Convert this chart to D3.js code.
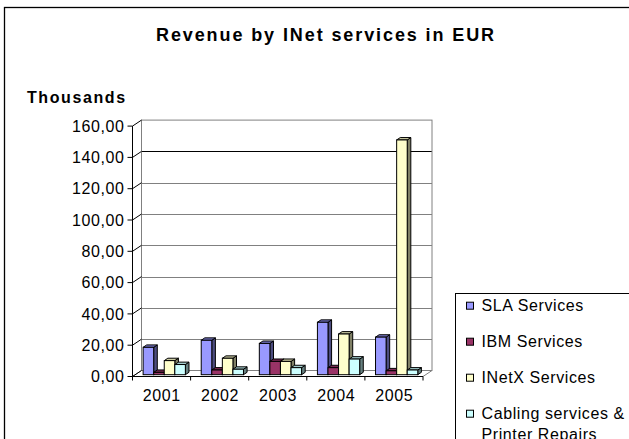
<!DOCTYPE html>
<html>
<head>
<meta charset="utf-8">
<script src="https://cdn.jsdelivr.net/npm/d3@7"></script>
<style>
  html, body { margin: 0; padding: 0; background: #fff; }
  svg { display: block; font-family: "Liberation Sans", Arial, sans-serif; }
</style>
</head>
<body>
<svg id="chart" width="629" height="439"></svg>
<script>
// Revenue per year (thousands of EUR), one array per service line
const years = ["2001", "2002", "2003", "2004", "2005"];
const seriesNames = ["SLA Services", "IBM Services", "INetX Services", "Cabling services & Printer Repairs"];
const slaServices = [17.5, 22, 20, 33.5, 24];
const ibmServices = [1.5, 3, 8.5, 4.5, 2.5];
const inetxServices = [9, 10.5, 8.5, 26, 150];
const cablingServices = [6.5, 3.5, 4.5, 10, 3];
const yTicks = [0, 20, 40, 60, 80, 100, 120, 140, 160];
const seriesColors = ["#9999FF", "#993366", "#FFFFCC", "#CCFFFF"];

const seriesValues = [slaServices, ibmServices, inetxServices, cablingServices];

const svg = d3.select("#chart");

// chart frame (continues past the right and bottom edges)
svg.append("rect")
  .attr("x", 4.5).attr("y", 7.5)
  .attr("width", 660).attr("height", 460)
  .attr("fill", "#fff").attr("stroke", "#000").attr("stroke-width", 1.3);

svg.append("text")
  .attr("x", 326).attr("y", 41)
  .attr("text-anchor", "middle")
  .attr("font-size", 18).attr("font-weight", "bold")
  .attr("letter-spacing", 1.9)
  .text("Revenue by INet services in EUR");

svg.append("text")
  .attr("x", 27).attr("y", 102.5)
  .attr("font-size", 16).attr("font-weight", "bold")
  .attr("letter-spacing", 1.6)
  .text("Thousands");

// 3-D geometry: front edge of the plot and the depth offset to the back wall
const front = { x0: 132.5, x1: 423, y0: 376.5 };
const depth = { dx: 9, dy: -6 };
const barDepth = [0.3, 0.7];
const labelSpacing = 0.6;

const x = d3.scaleBand().domain(years).range([front.x0, front.x1]);
const y = d3.scaleLinear().domain([0, 160]).range([front.y0, front.y0 - 160 * 1.565]);

const g = svg.append("g");

// back wall with gridlines
const wall = g.append("g").attr("transform", `translate(${depth.dx},${depth.dy})`);
wall.selectAll("line.grid").data(yTicks.slice(1, -1)).join("line")
  .attr("class", "grid")
  .attr("x1", front.x0).attr("x2", front.x1)
  .attr("y1", d => Math.round(y(d)) + 0.5).attr("y2", d => Math.round(y(d)) + 0.5)
  .attr("stroke", d => d === 140 ? "#000" : "#808080").attr("stroke-width", 1);
wall.append("rect")
  .attr("x", front.x0).attr("y", y(160))
  .attr("width", front.x1 - front.x0).attr("height", y(0) - y(160))
  .attr("fill", "none").attr("stroke", "#808080").attr("stroke-width", 1);

// floor edges
g.append("path")
  .attr("d", `M${front.x0},${front.y0} L${front.x0 + depth.dx},${front.y0 + depth.dy} M${front.x1},${front.y0} L${front.x1 + depth.dx},${front.y0 + depth.dy}`)
  .attr("stroke", "#808080").attr("fill", "none");

// value axis with diagonal tick connectors to the wall
const yAxis = g.append("g");
yAxis.append("line")
  .attr("x1", front.x0).attr("x2", front.x0)
  .attr("y1", y(0)).attr("y2", y(160))
  .attr("stroke", "#000");
yAxis.selectAll("path.tick").data(yTicks).join("path")
  .attr("class", "tick")
  .attr("d", d => `M${front.x0 - 5},${y(d)} L${front.x0},${y(d)} L${front.x0 + depth.dx},${y(d) + depth.dy}`)
  .attr("stroke", "#000").attr("fill", "none");
yAxis.selectAll("text").data(yTicks).join("text")
  .attr("x", front.x0 - 8).attr("y", d => y(d))
  .attr("dy", "0.35em")
  .attr("text-anchor", "end")
  .attr("font-size", 16)
  .attr("letter-spacing", labelSpacing)
  .text(d => d3.format(".2f")(d).replace(".", ","));

// bars: front face, side face and top face
const barW = x.bandwidth() / 5.5;   // gap width 150%
const shade = (c, k) => { const r = d3.rgb(c); return d3.rgb(r.r * k, r.g * k, r.b * k).formatHex(); };

const barData = [];
years.forEach((yr, i) => {
  seriesValues.forEach((vals, s) => barData.push({ yr, s, v: vals[i] }));
});

const ox0 = depth.dx * barDepth[0], oy0 = depth.dy * barDepth[0];
const bdx = depth.dx * (barDepth[1] - barDepth[0]), bdy = depth.dy * (barDepth[1] - barDepth[0]);

g.append("g").selectAll("g.bar").data(barData).join("g").attr("class", "bar")
  .each(function (d) {
    const gx = x(d.yr) + barW * 0.75 + d.s * barW + ox0;
    const yb = y(0) + oy0;
    const yt = y(d.v) + oy0;
    const sel = d3.select(this);
    const col = seriesColors[d.s];
    sel.append("path")
      .attr("d", `M${gx + barW},${yb} L${gx + barW + bdx},${yb + bdy} L${gx + barW + bdx},${yt + bdy} L${gx + barW},${yt} Z`)
      .attr("fill", shade(col, 0.5)).attr("stroke", "#000").attr("stroke-linejoin", "round");
    sel.append("path")
      .attr("d", `M${gx},${yt} L${gx + bdx},${yt + bdy} L${gx + barW + bdx},${yt + bdy} L${gx + barW},${yt} Z`)
      .attr("fill", shade(col, 0.8)).attr("stroke", "#000").attr("stroke-linejoin", "round");
    sel.append("rect")
      .attr("x", gx).attr("y", yt).attr("width", barW).attr("height", yb - yt)
      .attr("fill", col).attr("stroke", "#000");
  });

// category axis along the front floor edge
const xAxis = g.append("g");
xAxis.append("line")
  .attr("x1", front.x0).attr("x2", front.x1)
  .attr("y1", front.y0).attr("y2", front.y0)
  .attr("stroke", "#000");
xAxis.selectAll("line.tick").data(d3.range(years.length + 1)).join("line")
  .attr("class", "tick")
  .attr("x1", i => front.x0 + i * x.step()).attr("x2", i => front.x0 + i * x.step())
  .attr("y1", front.y0).attr("y2", front.y0 + 4)
  .attr("stroke", "#000");
xAxis.selectAll("text").data(years).join("text")
  .attr("x", d => x(d) + x.bandwidth() / 2 + labelSpacing / 2).attr("y", 401)
  .attr("text-anchor", "middle")
  .attr("font-size", 16)
  .attr("letter-spacing", labelSpacing)
  .text(d => d);

// legend (continues past the right and bottom edges)
const legend = svg.append("g");
legend.append("rect")
  .attr("x", 455.5).attr("y", 293.5).attr("width", 220).attr("height", 200)
  .attr("fill", "#fff").attr("stroke", "#000").attr("stroke-width", 1);
const legendRows = [["SLA Services"], ["IBM Services"], ["INetX Services"], ["Cabling services &", "Printer Repairs"]];
legendRows.forEach((lines, i) => {
  const cy = 305.7 + i * 36;
  legend.append("rect")
    .attr("x", 466.5).attr("y", cy - 3.5).attr("width", 7).attr("height", 7)
    .attr("fill", seriesColors[i]).attr("stroke", "#000");
  lines.forEach((t, j) => {
    legend.append("text")
      .attr("x", 481.5).attr("y", cy + 5.6 + j * 21)
      .attr("font-size", 16)
      .attr("letter-spacing", labelSpacing)
      .text(t);
  });
});
</script>
</body>
</html>
